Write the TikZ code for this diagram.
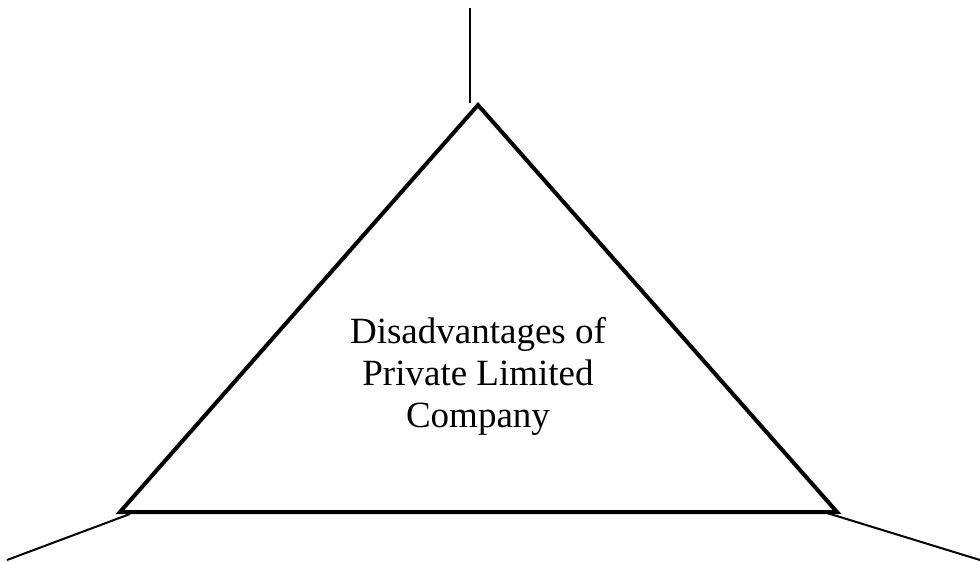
\documentclass[tikz,border=0pt]{standalone}
\usepackage{fontspec}
\setmainfont{Liberation Serif}
\begin{document}
\begin{tikzpicture}[x=1pt,y=-1pt,
  edge/.style={line width=2pt},
  tri/.style={line width=4pt, line join=miter},
  label/.style={align=center, inner sep=0pt, font=\fontsize{37}{42}\selectfont}]
\useasboundingbox (0,0) rectangle (980,562);
\coordinate (apex) at (478,105);
\coordinate (bl) at (120,512);
\coordinate (br) at (837,512);
\draw[tri] (apex) -- (bl) -- (br) -- cycle;
\node[label] (title) at (478,376.5) {Disadvantages of\\Private Limited\\Company};
\coordinate (topa) at (470,103);
\coordinate (topb) at (470,8);
\coordinate (la) at (130,514);
\coordinate (lb) at (7,560);
\coordinate (ra) at (827,513);
\coordinate (rb) at (980,560);
\draw[edge] (topa) -- (topb);
\draw[edge] (la) -- (lb);
\draw[edge] (ra) -- (rb);
\end{tikzpicture}
\end{document}
